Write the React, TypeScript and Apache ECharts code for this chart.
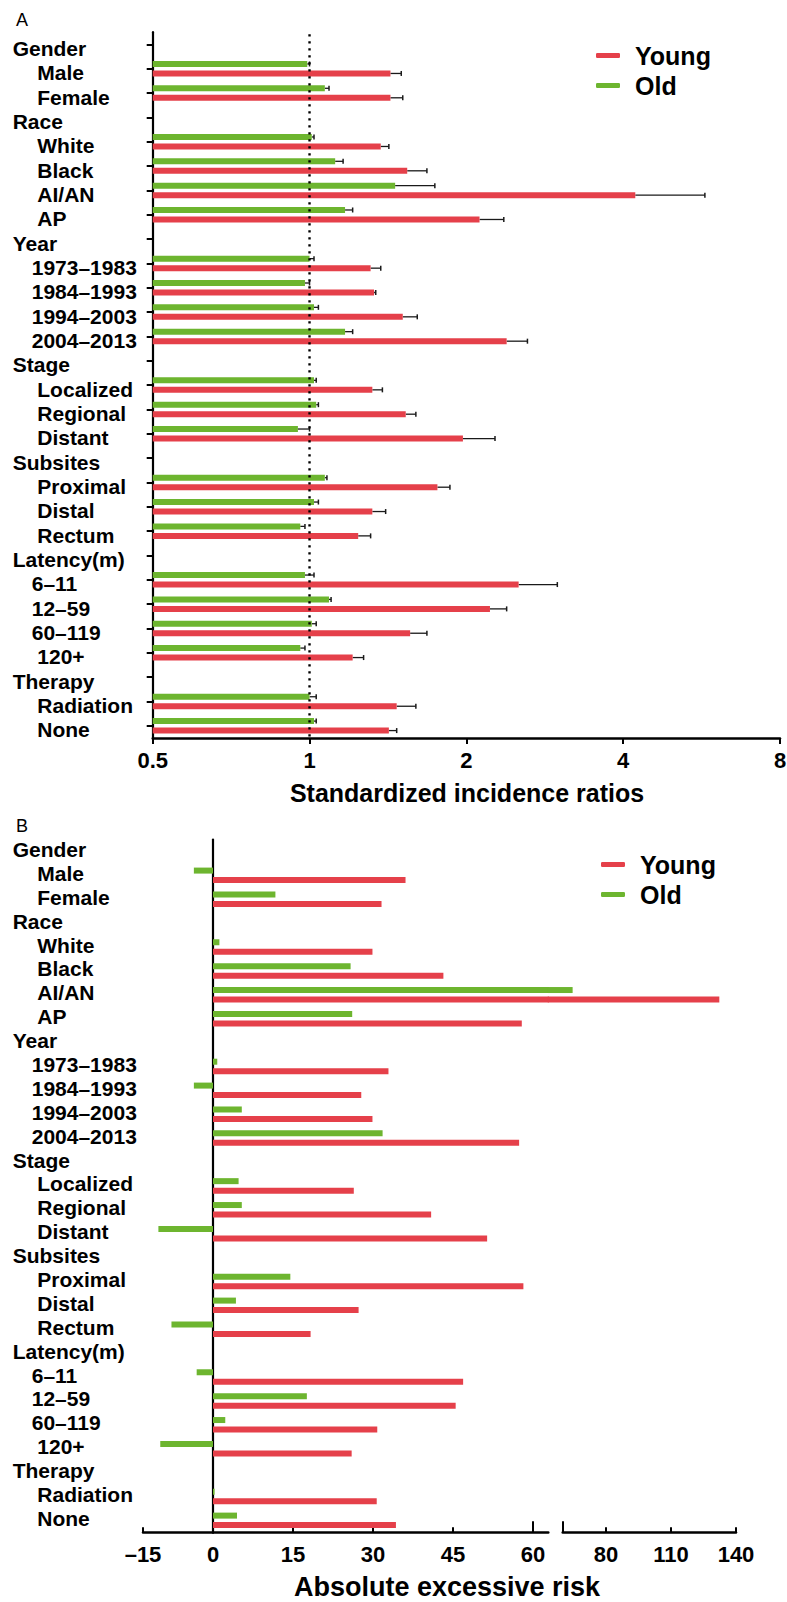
import React, { useEffect, useRef } from 'react';
import * as echarts from 'echarts';

// ---------------- data ----------------
const categories = [
  'Gender', 'Male', 'Female',
  'Race', 'White', 'Black', 'AI/AN', 'AP',
  'Year', '1973–1983', '1984–1993', '1994–2003', '2004–2013',
  'Stage', 'Localized', 'Regional', 'Distant',
  'Subsites', 'Proximal', 'Distal', 'Rectum',
  'Latency(m)', '6–11', '12–59', '60–119', '120+',
  'Therapy', 'Radiation', 'None',
];
const headerRows = ['Gender', 'Race', 'Year', 'Stage', 'Subsites', 'Latency(m)', 'Therapy'];
const narrowIndentRows = ['1973–1983', '1984–1993', '1994–2003', '2004–2013', '6–11', '12–59', '60–119'];

// Panel A: standardized incidence ratios (value and upper confidence limit)
const sirYoung = [null, 1.43, 1.43, null, 1.37, 1.54, 4.22, 2.12, null, 1.31, 1.33, 1.51, 2.39, null, 1.32, 1.53, 1.97, null, 1.76, 1.32, 1.24, null, 2.52, 2.22, 1.56, 1.21, null, 1.47, 1.42];
const sirYoungUpper = [null, 1.50, 1.51, null, 1.42, 1.68, 5.74, 2.36, null, 1.37, 1.34, 1.61, 2.62, null, 1.38, 1.60, 2.27, null, 1.86, 1.40, 1.31, null, 2.99, 2.39, 1.68, 1.27, null, 1.60, 1.47];
const sirOld = [null, 0.99, 1.07, null, 1.01, 1.12, 1.46, 1.17, null, 1.00, 0.98, 1.02, 1.17, null, 1.02, 1.03, 0.95, null, 1.07, 1.02, 0.96, null, 0.98, 1.09, 1.01, 0.96, null, 1.00, 1.02];
const sirOldUpper = [null, 1.00, 1.09, null, 1.02, 1.16, 1.74, 1.21, null, 1.02, 1.00, 1.04, 1.21, null, 1.03, 1.04, 1.00, null, 1.08, 1.04, 0.98, null, 1.02, 1.10, 1.03, 0.98, null, 1.03, 1.03];

// Panel B: absolute excessive risk
const aerYoung = [null, 36.1, 31.6, null, 29.9, 43.2, 132.3, 57.9, null, 32.9, 27.8, 29.9, 57.4, null, 26.4, 40.9, 51.4, null, 58.2, 27.3, 18.3, null, 46.9, 45.5, 30.8, 26.0, null, 30.7, 34.3];
const aerOld = [null, -4.1, 11.7, null, 1.2, 25.8, 64.6, 26.1, null, 0.8, -4.1, 5.4, 31.8, null, 4.8, 5.4, -11.7, null, 14.5, 4.3, -8.9, null, -3.5, 17.6, 2.3, -11.3, null, 0.3, 4.5];

// tick labels
const sirTicks = [0.5, 1, 2, 4, 8];
const aerTicksNeg = [-15];
const aerTicksLow = [0, 15, 30, 45, 60];
const aerTicksLowMinor = [15, 30, 45];
const aerTicksHigh = [80, 110, 140];
const aerSegmentMarks = [60];

// ---------------- style ----------------
const RED = '#E5404A';
const GREEN = '#6DB52F';
const BLACK = '#000';
const FONT = "'Liberation Sans', Arial, Helvetica, sans-serif";
const BAR_H = 6;
const BAR_OFF = 4.75;
const LABEL_SIZE = 21;

// axis extents (pixel layout of the segmented axis in panel B)
const A_MIN = 0.5, A_MAX = 8;
const N_MIN = -15, N_MAX = 0;
const P_MIN = 0, P_MAX = 62.87;
const H_FILL_MIN = 53.37, H_MAX = 140;
const H_MIN = 60;

const rowsA = { top: 32.2, height: 705.8 };
const rowsB = { top: 839.5, height: 692.8 };

const labelRich = {
  h: { fontSize: LABEL_SIZE, fontWeight: 'bold', fontFamily: FONT, color: BLACK },
  n: { fontSize: LABEL_SIZE, fontWeight: 'bold', fontFamily: FONT, color: BLACK, padding: [0, 0, 0, 19] },
  i: { fontSize: LABEL_SIZE, fontWeight: 'bold', fontFamily: FONT, color: BLACK, padding: [0, 0, 0, 24.6] },
};
const labelFormatter = (v: string) =>
  headerRows.includes(v) ? `{h|${v}}` : narrowIndentRows.includes(v) ? `{n|${v}}` : `{i|${v}}`;

const tickLabelStyle = { fontSize: 22, fontWeight: 'bold', fontFamily: FONT, color: BLACK };
const fmtNum = (v: number) => (v < 0 ? '–' + Math.abs(v) : String(+(+v).toFixed(2)));
const axisLineStyle = { show: true, onZero: false, lineStyle: { color: BLACK, width: 2.5 } };

function sirRenderer(offset: number, color: string) {
  return (params: any, api: any) => {
    const v = api.value(1);
    if (v == null || isNaN(v)) return null;
    const idx = api.value(0);
    const base = api.coord([A_MIN, idx]);
    const end = api.coord([v, idx]);
    const y = base[1] + offset;
    const children: any[] = [];
    const upper = api.value(2);
    if (!isNaN(upper) && upper > v) {
      const up = api.coord([upper, idx]);
      children.push({ type: 'line', shape: { x1: end[0], y1: y, x2: up[0], y2: y }, style: { stroke: '#1a1a1a', lineWidth: 1.3 } });
      children.push({ type: 'line', shape: { x1: up[0], y1: y - 2.5, x2: up[0], y2: y + 2.5 }, style: { stroke: '#1a1a1a', lineWidth: 1.5 } });
    }
    children.push({ type: 'rect', shape: { x: base[0], y: y - BAR_H / 2, width: end[0] - base[0], height: BAR_H }, style: { fill: color } });
    return { type: 'group', children };
  };
}

function aerRenderer(offset: number, color: string, accept: (v: number) => boolean) {
  return (params: any, api: any) => {
    const v = api.value(1);
    if (v == null || isNaN(v) || !accept(v)) return null;
    const idx = api.value(0);
    const p0 = api.coord([0, idx]);
    const p1 = api.coord([v, idx]);
    const cs = params.coordSys;
    let x0 = Math.min(p0[0], p1[0]);
    let x1 = Math.max(p0[0], p1[0]);
    x0 = Math.max(x0, cs.x - 0.5);
    x1 = Math.min(x1, cs.x + cs.width + 0.5);
    if (x1 <= x0) return null;
    return { type: 'rect', shape: { x: x0, y: p0[1] + offset - BAR_H / 2, width: x1 - x0, height: BAR_H }, style: { fill: color } };
  };
}

const hiddenY = (gridIndex: number) => ({
  type: 'category', gridIndex, data: categories, inverse: true, show: false,
});

export default function App() {
  const ref = useRef<HTMLDivElement>(null);
  useEffect(() => {
    document.body.style.margin = '0';
    const chart = echarts.init(ref.current!, undefined, { renderer: 'svg' });
    const sirYoungData = categories.map((c, i) => [i, sirYoung[i], sirYoungUpper[i]]);
    const sirOldData = categories.map((c, i) => [i, sirOld[i], sirOldUpper[i]]);
    const aerYoungData = categories.map((c, i) => [i, aerYoung[i]]);
    const aerOldData = categories.map((c, i) => [i, aerOld[i]]);

    const legendBase = {
      orient: 'vertical', itemWidth: 24, itemHeight: 5, itemGap: 5, padding: 0, selectedMode: false,
      data: [{ name: 'Young', icon: 'roundRect' }, { name: 'Old', icon: 'roundRect' }],
      textStyle: { fontSize: 25, fontWeight: 'bold', fontFamily: FONT, color: BLACK, padding: [0, 0, 0, 10] },
    };

    const option: any = {
      animation: false,
      backgroundColor: '#fff',
      legend: [
        { ...legendBase, left: 596, top: 43 },
        { ...legendBase, left: 601, top: 852 },
      ],
      grid: [
        { left: 152.7, top: rowsA.top, width: 627.3, height: rowsA.height, outerBoundsMode: 'none' },
        { left: 143, top: rowsB.top, width: 70, height: rowsB.height, outerBoundsMode: 'none' },
        { left: 213, top: rowsB.top, width: 335.3, height: rowsB.height, outerBoundsMode: 'none' },
        { left: 548.3, top: rowsB.top, width: 187.7, height: rowsB.height, outerBoundsMode: 'none' },
        { left: 562.7, top: rowsB.top, width: 173.3, height: rowsB.height, outerBoundsMode: 'none' },
      ],
      xAxis: [
        {
          type: 'log', logBase: 2, gridIndex: 0, min: A_MIN, max: A_MAX,
          axisLine: axisLineStyle,
          axisTick: { show: true, length: 6, lineStyle: { color: BLACK, width: 2 }, customValues: sirTicks },
          axisLabel: { ...tickLabelStyle, margin: 11, formatter: fmtNum, customValues: sirTicks },
          splitLine: { show: false }, minorTick: { show: false },
        },
        {
          type: 'value', gridIndex: 1, min: N_MIN, max: N_MAX, interval: 15,
          axisLine: axisLineStyle,
          axisTick: { show: true, inside: true, length: 5, lineStyle: { color: BLACK, width: 2 }, customValues: aerTicksNeg },
          axisLabel: { ...tickLabelStyle, margin: 11, formatter: fmtNum, customValues: aerTicksNeg },
          splitLine: { show: false },
        },
        {
          type: 'value', gridIndex: 2, min: P_MIN, max: P_MAX, interval: 15,
          axisLine: axisLineStyle,
          axisTick: { show: true, inside: true, length: 5, lineStyle: { color: BLACK, width: 2 }, customValues: aerTicksLowMinor },
          axisLabel: { ...tickLabelStyle, margin: 11, formatter: fmtNum, customValues: aerTicksLow },
          splitLine: { show: false },
        },
        {
          type: 'value', gridIndex: 2, min: P_MIN, max: P_MAX, position: 'bottom',
          axisLine: { show: false, onZero: false },
          axisTick: { show: true, inside: true, length: 11, lineStyle: { color: BLACK, width: 2 }, customValues: aerSegmentMarks },
          axisLabel: { show: false },
          splitLine: { show: false },
        },
        {
          type: 'value', gridIndex: 3, min: H_FILL_MIN, max: H_MAX, show: false,
          splitLine: { show: false },
        },
        {
          type: 'value', gridIndex: 4, min: H_MIN, max: H_MAX,
          axisLine: axisLineStyle,
          axisTick: { show: true, inside: true, length: 5, lineStyle: { color: BLACK, width: 2 }, customValues: aerTicksHigh },
          axisLabel: { ...tickLabelStyle, margin: 11, formatter: fmtNum, customValues: aerTicksHigh },
          splitLine: { show: false },
        },
        {
          type: 'value', gridIndex: 4, min: H_MIN, max: H_MAX, position: 'bottom',
          axisLine: { show: false, onZero: false },
          axisTick: { show: true, inside: true, length: 11, lineStyle: { color: BLACK, width: 2 }, customValues: aerSegmentMarks },
          axisLabel: { show: false },
          splitLine: { show: false },
        },
      ],
      yAxis: [
        {
          type: 'category', gridIndex: 0, data: categories, inverse: true,
          axisLine: { show: true, onZero: false, lineStyle: { color: BLACK, width: 2.2 } },
          axisTick: { show: true, alignWithLabel: true, length: 6, lineStyle: { color: BLACK, width: 2 } },
          axisLabel: {
            interval: 0, margin: 140, align: 'left', padding: [8, 0, 0, 0],
            formatter: labelFormatter, rich: labelRich,
            fontSize: LABEL_SIZE, fontWeight: 'bold', fontFamily: FONT, color: BLACK,
          },
        },
        hiddenY(1),
        {
          type: 'category', gridIndex: 2, data: categories, inverse: true,
          axisLine: { show: true, onZero: false, lineStyle: { color: BLACK, width: 2.2 } },
          axisTick: { show: false },
          axisLabel: {
            interval: 0, margin: 200.3, align: 'left', padding: [0, 0, 4, 0],
            formatter: labelFormatter, rich: labelRich,
            fontSize: LABEL_SIZE, fontWeight: 'bold', fontFamily: FONT, color: BLACK,
          },
        },
        hiddenY(3),
        hiddenY(4),
      ],
      series: [
        // Panel A
        {
          type: 'custom', name: 'Old', xAxisIndex: 0, yAxisIndex: 0, itemStyle: { color: GREEN },
          renderItem: sirRenderer(-BAR_OFF, GREEN), data: sirOldData, encode: { x: 1, y: 0 },
        },
        {
          type: 'custom', name: 'Young', xAxisIndex: 0, yAxisIndex: 0, itemStyle: { color: RED },
          renderItem: sirRenderer(BAR_OFF, RED), data: sirYoungData, encode: { x: 1, y: 0 },
        },
        {
          type: 'custom', name: 'reference', xAxisIndex: 0, yAxisIndex: 0, z: 5,
          data: [[1, 0]],
          renderItem: (params: any, api: any) => {
            const x = api.coord([api.value(0), 0])[0];
            const cs = params.coordSys;
            return {
              type: 'line',
              shape: { x1: x, y1: cs.y + 2, x2: x, y2: cs.y + cs.height },
              style: { stroke: BLACK, lineWidth: 2.4, lineDash: [2.2, 4.8] },
            };
          },
        },
        // Panel B, negative segment
        {
          type: 'custom', name: 'Old', xAxisIndex: 1, yAxisIndex: 1, itemStyle: { color: GREEN },
          renderItem: aerRenderer(-BAR_OFF, GREEN, (v) => v < 0), data: aerOldData, encode: { x: 1, y: 0 },
        },
        {
          type: 'custom', name: 'Young', xAxisIndex: 1, yAxisIndex: 1, itemStyle: { color: RED },
          renderItem: aerRenderer(BAR_OFF, RED, (v) => v < 0), data: aerYoungData, encode: { x: 1, y: 0 },
        },
        // Panel B, 0–60 segment
        {
          type: 'custom', name: 'Old', xAxisIndex: 2, yAxisIndex: 2, itemStyle: { color: GREEN },
          renderItem: aerRenderer(-BAR_OFF, GREEN, (v) => v > 0), data: aerOldData, encode: { x: 1, y: 0 },
        },
        {
          type: 'custom', name: 'Young', xAxisIndex: 2, yAxisIndex: 2, itemStyle: { color: RED },
          renderItem: aerRenderer(BAR_OFF, RED, (v) => v > 0), data: aerYoungData, encode: { x: 1, y: 0 },
        },
        // Panel B, upper segment (beyond break)
        {
          type: 'custom', name: 'Old', xAxisIndex: 4, yAxisIndex: 3, itemStyle: { color: GREEN },
          renderItem: aerRenderer(-BAR_OFF, GREEN, (v) => v > P_MAX), data: aerOldData, encode: { x: 1, y: 0 },
        },
        {
          type: 'custom', name: 'Young', xAxisIndex: 4, yAxisIndex: 3, itemStyle: { color: RED },
          renderItem: aerRenderer(BAR_OFF, RED, (v) => v > P_MAX), data: aerYoungData, encode: { x: 1, y: 0 },
        },
      ],
      graphic: [
        { type: 'text', left: 16, top: 11, style: { text: 'A', fontSize: 18, fontFamily: FONT, fill: BLACK } },
        { type: 'text', left: 16, top: 817, style: { text: 'B', fontSize: 18, fontFamily: FONT, fill: BLACK } },
        {
          type: 'text', x: 467, y: 793,
          style: { text: 'Standardized incidence ratios', fontSize: 25, fontWeight: 'bold', fontFamily: FONT, fill: BLACK, align: 'center', verticalAlign: 'middle' },
        },
        {
          type: 'text', x: 447, y: 1587,
          style: { text: 'Absolute excessive risk', fontSize: 27, fontWeight: 'bold', fontFamily: FONT, fill: BLACK, align: 'center', verticalAlign: 'middle' },
        },
      ],
    };
    chart.setOption(option);
    return () => chart.dispose();
  }, []);
  return <div ref={ref} style={{ position: 'absolute', left: 0, top: 0, width: 787, height: 1602, background: '#fff' }} />;
}
